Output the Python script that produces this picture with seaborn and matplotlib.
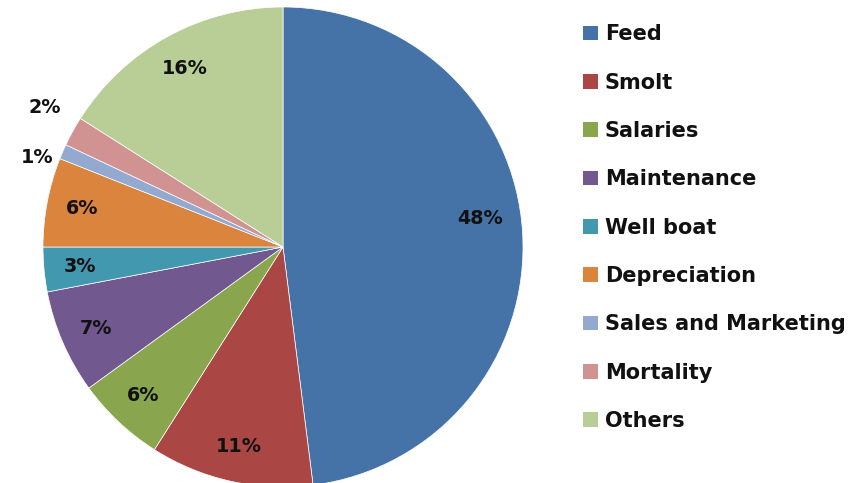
import matplotlib
matplotlib.use("Agg")
import matplotlib.pyplot as plt
import seaborn as sns
import numpy as np
from matplotlib.patches import Patch

categories = ["Feed", "Smolt", "Salaries", "Maintenance", "Well boat",
              "Depreciation", "Sales and Marketing", "Mortality", "Others"]
values = [48, 11, 6, 7, 3, 6, 1, 2, 16]
colors = ["#4572A7", "#AA4643", "#89A54E", "#71588F", "#4198AF",
          "#DB843D", "#93A9CF", "#D19392", "#B9CD96"]

sns.set_theme(style="white")
plt.rcParams['font.family'] = ['DejaVu Sans']

fig = plt.figure(figsize=(8.6, 4.83), dpi=100)
ax = fig.add_axes([0, 0, 1, 1])

CX, CY, R = 283, 236, 240
wedges, texts, autotexts = ax.pie(
    values, colors=colors, startangle=90, counterclock=False,
    center=(CX, CY), radius=R, frame=True,
    autopct=lambda p: f"{p:.0f}%", pctdistance=0.85,
    wedgeprops=dict(linewidth=0.5, edgecolor="white"),
    textprops=dict(fontsize=13.8, fontweight="bold", color="#111111"))

# label placement tweaks by slice index: (radius factor, angle nudge in degrees)
tweaks = {0: (0.83, 4.6), 6: (1.09, 3.3), 7: (1.15, -1.5)}
for i, (w, t) in enumerate(zip(wedges, autotexts)):
    if i in tweaks:
        rf, da = tweaks[i]
        ang = np.deg2rad((w.theta1 + w.theta2) / 2 + da)
        t.set_position((CX + R * rf * np.cos(ang), CY + R * rf * np.sin(ang)))
        t.set_ha("center")

ax.set_xlim(0, 860)
ax.set_ylim(0, 483)
ax.set_aspect("equal")
ax.axis("off")

handles = [Patch(facecolor=c, edgecolor="none") for c in colors]
leg = ax.legend(handles, categories, loc="upper left",
                bbox_to_anchor=(575 / 860, 1 - 16 / 483),
                frameon=False, handlelength=0.7, handleheight=0.7,
                handletextpad=0.34, labelspacing=1.36,
                prop=dict(size=15, weight="bold"), borderaxespad=0)
for t in leg.get_texts():
    t.set_color("#111111")

fig.savefig("out.png", dpi=100)
